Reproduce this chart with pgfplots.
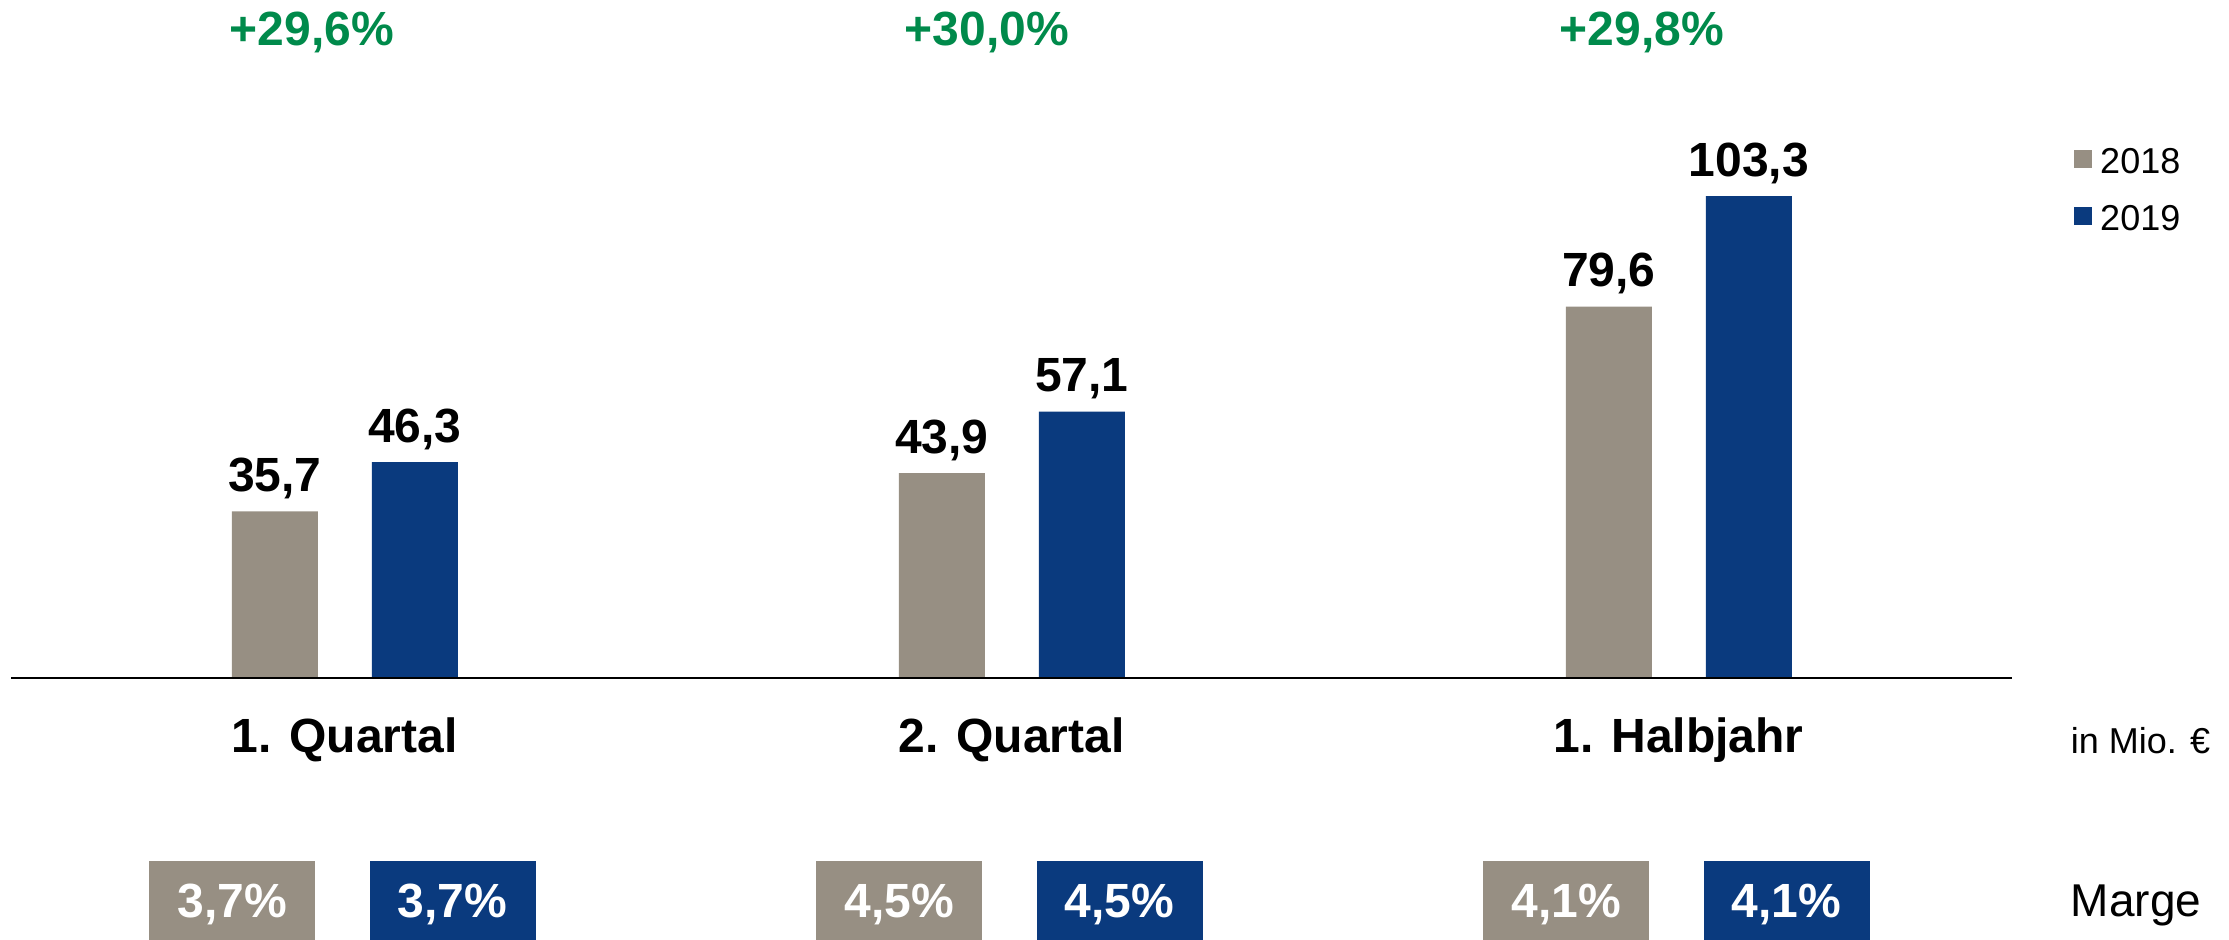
\documentclass[border=0pt]{standalone}
\usepackage{pgfplots}
\pgfplotsset{compat=1.18}
\usepackage{fontspec}
\setmainfont{Liberation Sans}
\definecolor{cgray}{RGB}{151,143,131}
\definecolor{cblue}{RGB}{10,58,126}
\definecolor{cgreen}{RGB}{0,138,75}
\newcommand{\bigbold}{\fontsize{12}{14}\selectfont\bfseries}
\begin{document}
\begin{tikzpicture}
\path[use as bounding box] (-2.75pt,0pt) rectangle (554.5pt,235pt);
\begin{axis}[
  scale only axis, width=500.25pt, height=235pt,
  xmin=-0.5, xmax=2.5, ymin=-56.16, ymax=145.35,
  hide axis, clip=false,
  ybar, bar width=21.5pt,
  /pgf/number format/use comma,
  /pgf/number format/fixed,
  /pgf/number format/fixed zerofill,
  /pgf/number format/precision=1,
  /pgf/number format/assume math mode=true,
  nodes near coords,
  nodes near coords style={font=\bigbold, text=black},
  legend style={at={(1.0305,0.852)}, anchor=north west, draw=none, fill=none,
    font=\fontsize{9}{11}\selectfont, inner sep=0pt, row sep=2.6pt,
    /tikz/every even column/.append style={column sep=2pt}},
  legend image code/.code={\fill[#1] (0pt,-1.1pt) rectangle (4.6pt,3.4pt);},
]
\addplot[fill=cgray, draw=none, bar shift=-17.4pt,
  every node near coord/.append style={anchor=base, yshift=5pt}]
  coordinates {(0,35.7) (1,43.9) (2,79.6)};
\addplot[fill=cblue, draw=none, bar shift=17.6pt,
  every node near coord/.append style={anchor=base, yshift=5pt}]
  coordinates {(0,46.3) (1,57.1) (2,103.3)};
\legend{2018,2019}

\draw[line width=0.6pt] (axis cs:-0.5,0) -- (axis cs:2.5,0);

\node[anchor=base, font=\bigbold] at (axis cs:0,-15.9) {1. Quartal};
\node[anchor=base, font=\bigbold] at (axis cs:1,-15.9) {2. Quartal};
\node[anchor=base, font=\bigbold] at (axis cs:2,-15.9) {1. Halbjahr};

\node[anchor=base, font=\bigbold, text=cgreen] at (axis cs:-0.0487,135.7) {+29,6\%};
\node[anchor=base, font=\bigbold, text=cgreen] at (axis cs:0.9633,135.7) {+30,0\%};
\node[anchor=base, font=\bigbold, text=cgreen] at (axis cs:1.9453,135.7) {+29,8\%};

\node[anchor=base west, inner sep=0pt, font=\fontsize{9}{11}\selectfont] at (axis cs:2.587,-16.08) {in Mio. €};
\node[anchor=base west, inner sep=0pt, font=\fontsize{11.5}{13}\selectfont] at (axis cs:2.587,-51.23) {Marge};

\tikzset{mbox/.style={text=white, minimum width=41.5pt, minimum height=19.75pt, inner sep=0pt, text depth=0pt, font=\bigbold}}
\node[mbox, fill=cgray] at (axis cs:-0.168,-47.7) {3,7\%};
\node[mbox, fill=cblue] at (axis cs:0.162,-47.7) {3,7\%};
\node[mbox, fill=cgray] at (axis cs:0.832,-47.7) {4,5\%};
\node[mbox, fill=cblue] at (axis cs:1.162,-47.7) {4,5\%};
\node[mbox, fill=cgray] at (axis cs:1.832,-47.7) {4,1\%};
\node[mbox, fill=cblue] at (axis cs:2.162,-47.7) {4,1\%};
\end{axis}
\end{tikzpicture}
\end{document}
